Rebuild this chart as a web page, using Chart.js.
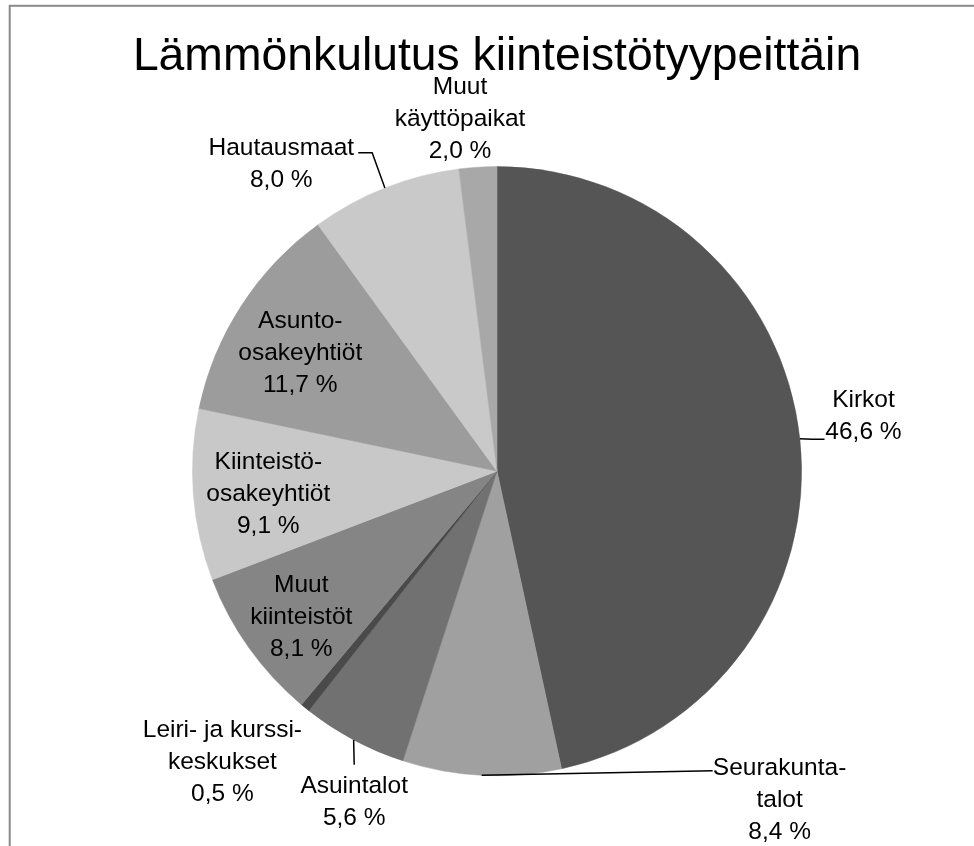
<!DOCTYPE html>
<html lang="fi">
<head>
<meta charset="utf-8">
<title>Lämmönkulutus kiinteistötyypeittäin</title>
<script src="https://cdn.jsdelivr.net/npm/chart.js@4/dist/chart.umd.min.js"></script>
<style>
  html, body { margin: 0; padding: 0; background: #ffffff; }
  #wrap { position: relative; width: 974px; height: 846px; }
</style>
</head>
<body>
<div id="wrap"><canvas id="c" width="974" height="846"></canvas></div>
<script>
// ---- Data ----
const titleText = 'Lämmönkulutus kiinteistötyypeittäin';
const categories = ['Kirkot', 'Seurakuntatalot', 'Asuintalot', 'Leiri- ja kurssikeskukset',
  'Muut kiinteistöt', 'Kiinteistöosakeyhtiöt', 'Asunto-osakeyhtiöt', 'Hautausmaat', 'Muut käyttöpaikat'];
const values = [46.6, 8.4, 5.6, 0.5, 8.1, 9.1, 11.7, 8.0, 2.0];
const labelLines = [
  ['Kirkot'],
  ['Seurakunta-', 'talot'],
  ['Asuintalot'],
  ['Leiri- ja kurssi-', 'keskukset'],
  ['Muut', 'kiinteistöt'],
  ['Kiinteistö-', 'osakeyhtiöt'],
  ['Asunto-', 'osakeyhtiöt'],
  ['Hautausmaat'],
  ['Muut', 'käyttöpaikat']
];

// ---- Styles ----
const sliceColors = ['#555555', '#a0a0a0', '#717171', '#4a4a4a', '#858585', '#c8c8c8', '#9c9c9c', '#c9c9c9', '#a8a8a8'];
// label block anchors (centre x, first baseline) relative to pie centre, in units of a 305px radius
const labelAnchor = [
  [367, -64], [283, 304], [-143, 322], [-275, 266], [-196, 121],
  [-229, -2], [-197, -143], [-216, -317], [-37, -378]
];
// leader line bend/end points (relative to pie centre); starts on the slice edge at mid-angle
const leaders = [
  [[316, -32], [328, -32]],
  [[216, 300]],
  [[-143, 294]],
  null, null, null, null,
  [[-125, -319], [-139, -319]],
  null
];
const LINE_STEP = 32;
const LABEL_FONT = '24.5px "Liberation Sans", Arial, sans-serif';

function fmtPct(v) { return v.toFixed(1).replace('.', ',') + ' %'; }

const framePlugin = {
  id: 'frame',
  beforeDraw(chart) {
    const ctx = chart.ctx;
    ctx.save();
    ctx.fillStyle = '#ffffff';
    ctx.fillRect(0, 0, chart.width, chart.height);
    ctx.strokeStyle = '#8a8a8a';
    ctx.lineWidth = 2;
    ctx.strokeRect(9.7, 5.8, 1000, 1000);
    ctx.restore();
  }
};

const labelPlugin = {
  id: 'sliceLabels',
  afterDatasetsDraw(chart) {
    const ctx = chart.ctx;
    const meta = chart.getDatasetMeta(0);
    const a0 = meta.data[0];
    const cx = a0.x, cy = a0.y, r = a0.outerRadius, k = r / 305;
    ctx.save();
    ctx.font = LABEL_FONT;
    ctx.fillStyle = '#000000';
    ctx.strokeStyle = '#000000';
    ctx.lineWidth = 1.5;
    ctx.textAlign = 'center';
    ctx.textBaseline = 'alphabetic';
    meta.data.forEach((arc, i) => {
      const lines = labelLines[i].concat([fmtPct(values[i])]);
      const [ox, oy] = labelAnchor[i];
      lines.forEach((t, j) => ctx.fillText(t, cx + ox * k, cy + (oy + j * LINE_STEP) * k));
      const ld = leaders[i];
      if (ld) {
        const mid = (arc.startAngle + arc.endAngle) / 2;
        ctx.beginPath();
        ctx.moveTo(cx + Math.cos(mid) * r, cy + Math.sin(mid) * r);
        ld.forEach(([lx, ly]) => ctx.lineTo(cx + lx * k, cy + ly * k));
        ctx.stroke();
      }
    });
    ctx.restore();
  }
};

new Chart(document.getElementById('c'), {
  type: 'pie',
  data: {
    labels: categories,
    datasets: [{
      data: values,
      backgroundColor: sliceColors,
      borderColor: sliceColors,
      borderWidth: 0.5
    }]
  },
  options: {
    responsive: false,
    animation: false,
    layout: { padding: { left: 20, right: 0, top: 0, bottom: 70 } },
    plugins: {
      legend: { display: false },
      tooltip: { enabled: false },
      title: {
        display: true,
        text: titleText,
        color: '#000000',
        font: { family: '"Liberation Sans", Arial, sans-serif', size: 46.3, weight: 'normal', lineHeight: 1.2 },
        padding: { top: 29.5, bottom: 81.3 }
      }
    }
  },
  plugins: [framePlugin, labelPlugin]
});
</script>
</body>
</html>
